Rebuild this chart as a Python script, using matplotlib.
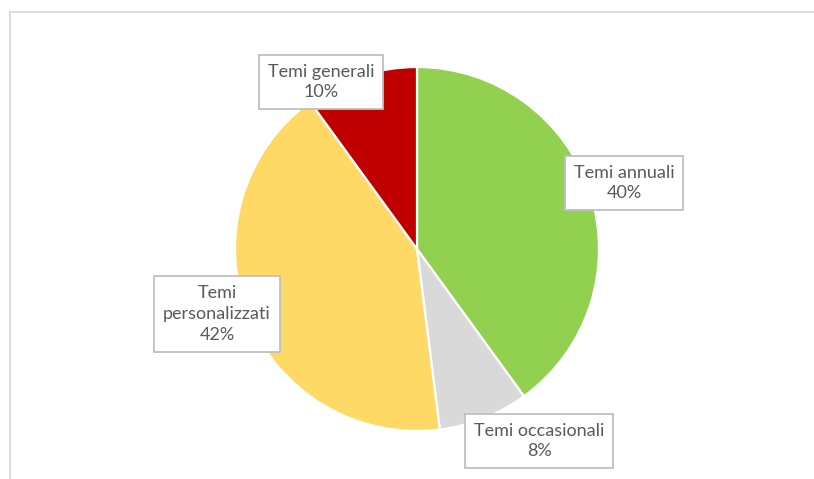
import matplotlib.pyplot as plt
from matplotlib.lines import Line2D

# data
labels = ["Temi annuali", "Temi occasionali", "Temi\npersonalizzati", "Temi generali"]
values = [40, 8, 42, 10]
colors = ["#92D050", "#D9D9D9", "#FFD966", "#C00000"]

# label box centres (pixels, y from bottom)
label_pos = [(624, 296), (539, 38), (217, 165), (321, 397)]

W, H = 814, 479
fig = plt.figure(figsize=(W / 100, H / 100), dpi=100)
ax = fig.add_axes([0, 0, 1, 1])

# chart area border (only top and left visible)
ax.add_line(Line2D([9.5, W], [467, 467], color="#D9D9D9", lw=1.3))
ax.add_line(Line2D([9.5, 9.5], [0, 467], color="#D9D9D9", lw=1.3))

ax.pie(values, colors=colors, startangle=90, counterclock=False,
       center=(417, 230), radius=182, frame=True,
       wedgeprops=dict(edgecolor="white", linewidth=1.6))
ax.set_xlim(0, W)
ax.set_ylim(0, H)
ax.set_aspect("equal")
ax.axis("off")

total = sum(values)
for lab, v, (x, y) in zip(labels, values, label_pos):
    ax.text(x, y, f"{lab}\n{round(100 * v / total)}%", ha="center", va="center",
            fontsize=13, color="#595959", family="Lato", linespacing=1.35,
            bbox=dict(boxstyle="square,pad=0.5", fc="white", ec="#BFBFBF", lw=1.3))

plt.savefig("out.png", dpi=100)
